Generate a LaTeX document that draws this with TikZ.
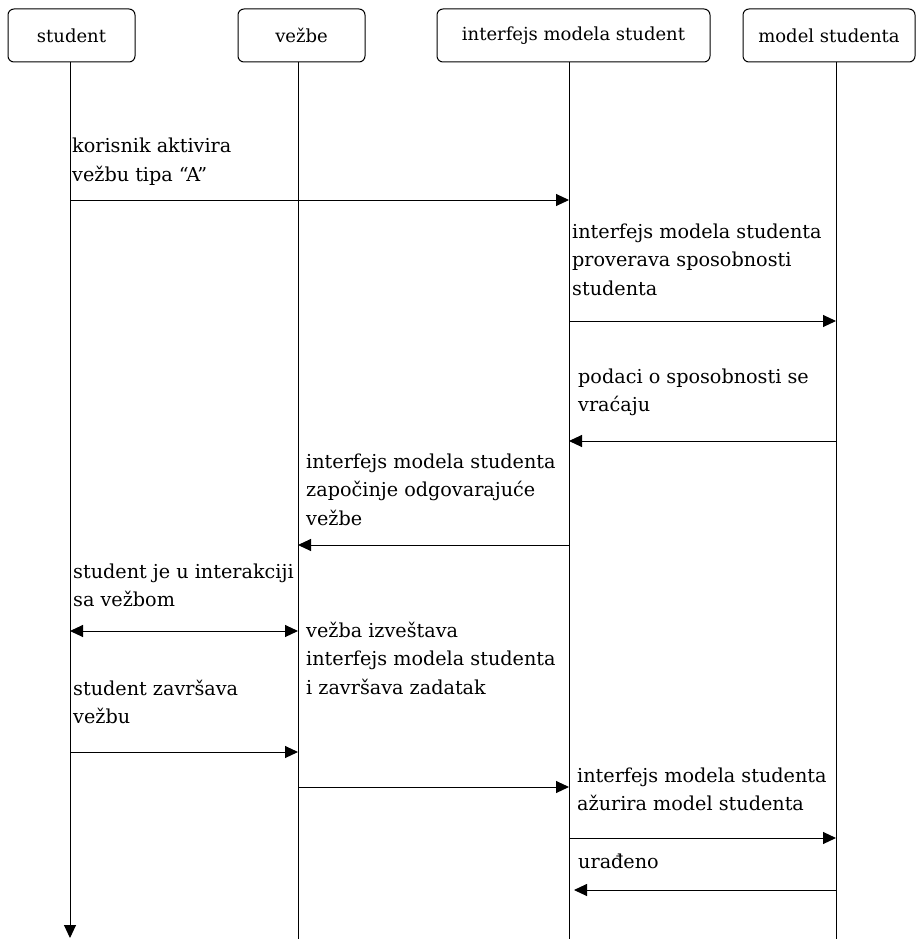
\documentclass[tikz,border=0pt]{standalone}
\usepackage{fontspec}
\setmainfont{DejaVu Serif}
\usetikzlibrary{arrows.meta}
\newcommand{\msgtext}[1]{\begin{tabular}[t]{@{}l@{}}#1\end{tabular}}
\begin{document}
\begin{tikzpicture}[x=1pt,y=-1pt,
  actor/.style={draw=black,line width=1pt,rounded corners=6pt,inner sep=0pt,
    font=\fontsize{18}{21}\selectfont},
  lifeline/.style={draw=black,line width=1pt},
  msg/.style={draw=black,line width=1pt,-{Triangle[length=13pt,width=12pt]}},
  msgboth/.style={draw=black,line width=1pt,{Triangle[length=13pt,width=12pt]}-{Triangle[length=13pt,width=12pt]}},
  note/.style={anchor=base west,inner sep=0pt,
    font=\fontsize{19.2}{28.5}\selectfont}]
\useasboundingbox (0,0) rectangle (917,939);
\fill[white] (0,0) rectangle (917,939);

% participants
\node[actor,minimum width=127pt,minimum height=53pt] (student) at (71.5,35.5) {student};
\node[actor,minimum width=127pt,minimum height=53pt] (vezbe) at (301.5,35.5) {vežbe};
\node[actor,minimum width=273pt,minimum height=53pt] (iface) at (573.5,35.5) {interfejs modela student};
\node[actor,minimum width=172pt,minimum height=53pt] (model) at (829,35.5) {model studenta};

% lifeline anchors
\coordinate (L1) at (70,62);
\coordinate (L2) at (298,62);
\coordinate (L3) at (569,62);
\coordinate (L4) at (836,62);
\coordinate (B1) at (70,938);
\coordinate (B2) at (298,939);
\coordinate (B3) at (569,939);
\coordinate (B4) at (836,939);

\draw[msg] (L1) -- (B1);
\draw[lifeline] (L2) -- (B2);
\draw[lifeline] (L3) -- (B3);
\draw[lifeline] (L4) -- (B4);

% messages
\draw[msg] (L1 |- 0,200) -- (L3 |- 0,200);
\draw[msg] (L3 |- 0,321) -- (L4 |- 0,321);
\draw[msg] (L4 |- 0,441) -- (L3 |- 0,441);
\draw[msg] (L3 |- 0,545) -- (L2 |- 0,545);
\draw[msgboth] (L1 |- 0,631) -- (L2 |- 0,631);
\draw[msg] (L1 |- 0,752) -- (L2 |- 0,752);
\draw[msg] (L2 |- 0,787) -- (L3 |- 0,787);
\draw[msg] (L3 |- 0,838) -- (L4 |- 0,838);
\coordinate (done) at (574,890);
\draw[msg] (L4 |- 0,890) -- (done);

% message labels (anchored at the baseline of the first line)
\node[note] (t1) at (72,153) {\msgtext{korisnik aktivira\\vežbu tipa “A”}};
\node[note] (t2) at (572,238) {\msgtext{interfejs modela studenta\\proverava sposobnosti\\studenta}};
\node[note] (t3) at (578,383) {\msgtext{podaci o sposobnosti se\\vraćaju}};
\node[note] (t4) at (306,468) {\msgtext{interfejs modela studenta\\započinje odgovarajuće\\vežbe}};
\node[note] (t5) at (73,578) {\msgtext{student je u interakciji\\sa vežbom}};
\node[note] (t6) at (306,637) {\msgtext{vežba izveštava\\interfejs modela studenta\\i završava zadatak}};
\node[note] (t7) at (73,695) {\msgtext{student završava\\vežbu}};
\node[note] (t8) at (577,782) {\msgtext{interfejs modela studenta\\ažurira model studenta}};
\node[note] (t9) at (578,868) {\msgtext{urađeno}};
\end{tikzpicture}
\end{document}
